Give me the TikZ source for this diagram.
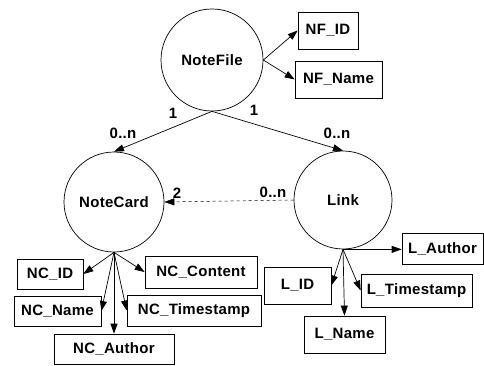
\documentclass[tikz,border=0pt]{standalone}
\usepackage{fontspec}
\setmainfont{Liberation Sans}[LetterSpace=2]
\usetikzlibrary{arrows.meta}
\tikzset{
  ent/.style={circle, draw, line width=0.7pt, inner sep=0pt},
  attr/.style={draw, line width=0.7pt, inner sep=0pt},
  conn/.style={line width=0.7pt, -{Triangle[length=10pt,width=7pt]}},
  lbl/.style={inner sep=0pt},
}
\begin{document}
\begin{tikzpicture}[x=1pt,y=-1pt,font=\fontsize{15}{17}\selectfont\bfseries]
\useasboundingbox (0,0) rectangle (484,366);
% entities
\node[ent, minimum size=102pt] (nf) at (212,60) {NoteFile};
\node[ent, minimum size=100pt] (nc) at (114,202) {NoteCard};
\node[ent, minimum size=98pt] (lk) at (343,200) {Link};
% attributes
\node[attr, minimum width=60pt, minimum height=37pt] (nfid) at (328,30.5) {NF\_ID};
\node[attr, minimum width=87pt, minimum height=37pt] (nfname) at (338.5,79.5) {NF\_Name};
\node[attr, minimum width=66pt, minimum height=30pt] (ncid) at (50,274) {NC\_ID};
\node[attr, minimum width=112pt, minimum height=32pt] (nccontent) at (201,272) {NC\_Content};
\node[attr, minimum width=87pt, minimum height=30pt] (ncname) at (57.5,311) {NC\_Name};
\node[attr, minimum width=134pt, minimum height=31pt] (ncts) at (194,310.5) {NC\_Timestamp};
\node[attr, minimum width=120pt, minimum height=30pt] (ncauthor) at (114,349) {NC\_Author};
\node[attr, minimum width=81pt, minimum height=31pt] (lauthor) at (442.5,248.5) {L\_Author};
\node[attr, minimum width=67pt, minimum height=37pt] (lid) at (297.5,285.5) {L\_ID};
\node[attr, minimum width=111pt, minimum height=33pt] (lts) at (416.5,290.5) {L\_Timestamp};
\node[attr, minimum width=81pt, minimum height=37pt] (lname) at (344.5,334.5) {L\_Name};
% relationships
\draw[conn] (nf.south) -- (nc.north);
\draw[conn] (nf.south) -- (lk.north);
\draw[conn, dashed, line width=0.5pt] (lk.west) -- (nc.east);
\node[lbl] (c1) at (173,113) {1};
\node[lbl] (c2) at (254,110) {1};
\node[lbl] (c3) at (123,133) {0..n};
\node[lbl] (c4) at (337,133) {0..n};
\node[lbl] (c5) at (177,193) {2};
\node[lbl] (c6) at (273,192) {0..n};
% attribute connectors
\draw[conn] (nf.east) -- (nfid.west);
\draw[conn] (nf.east) -- (nfname.west);
\draw[conn] (nc.south) -- (ncid.east);
\draw[conn] (nc.south) -- (nccontent.west);
\draw[conn] (nc.south) -- (ncname.east);
\draw[conn] (nc.south) -- (ncts.west);
\draw[conn] (nc.south) -- (ncauthor.north);
\draw[conn] (lk.south) -- (lauthor.west |- lk.south);
\draw[conn] (lk.south) -- (lid.east);
\draw[conn] (lk.south) -- (lts.west);
\draw[conn] (lk.south) -- (lname.north);
\end{tikzpicture}
\end{document}
